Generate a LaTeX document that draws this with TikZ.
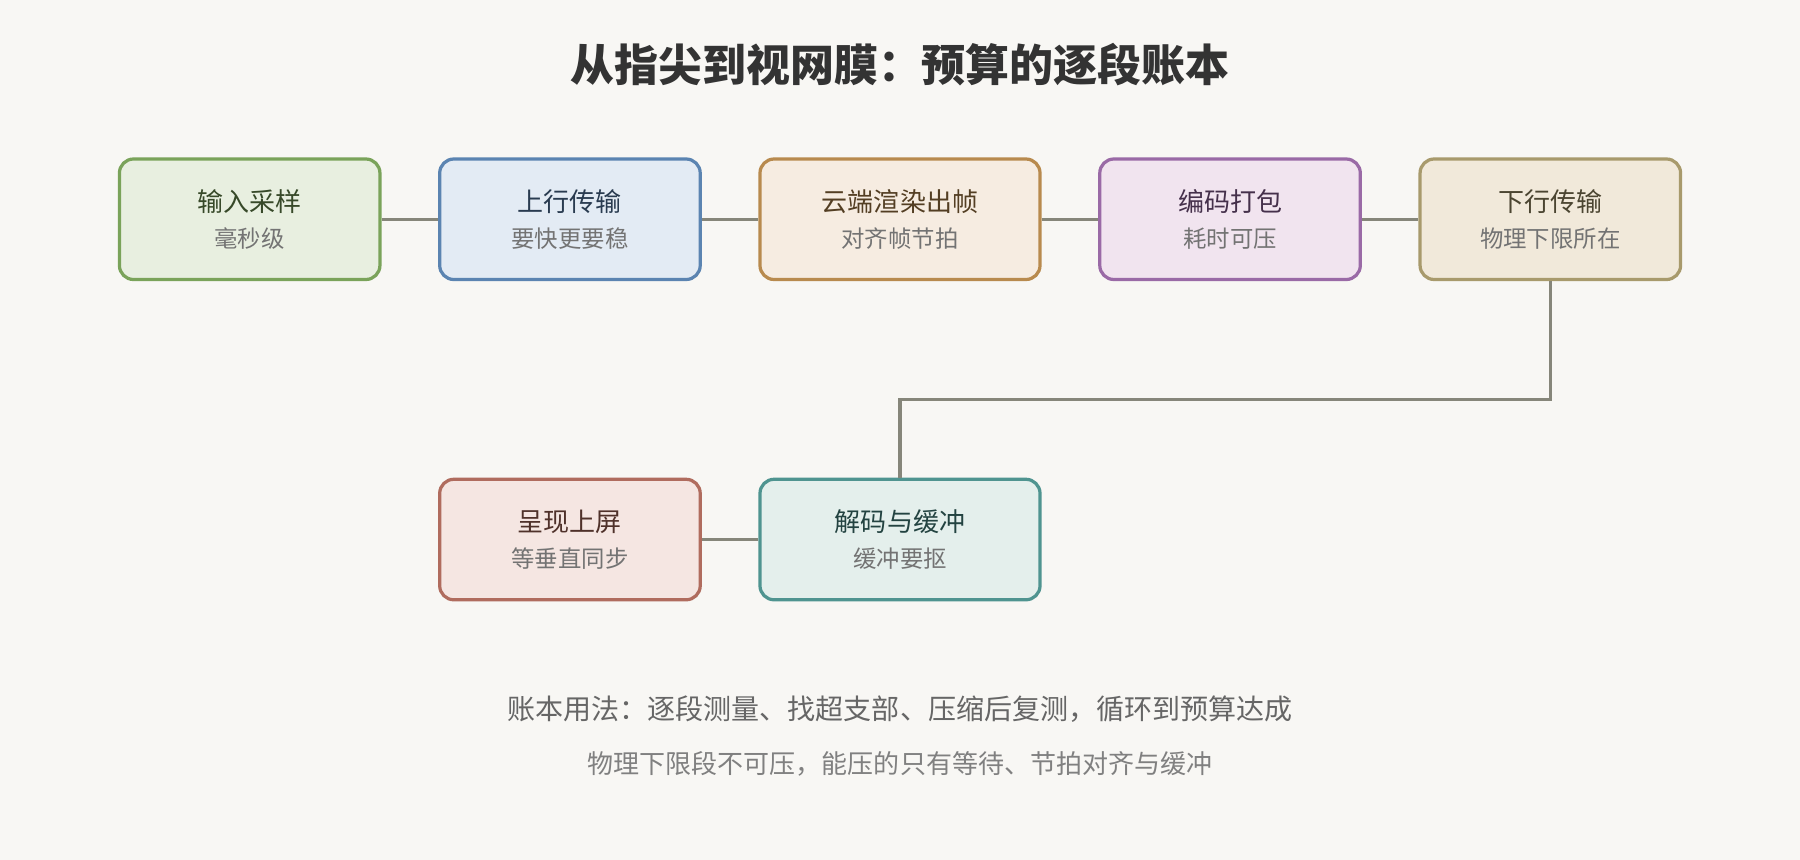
\documentclass[tikz,border=0pt]{standalone}
\usepackage{fontspec}
\setmainfont{Noto Sans CJK SC}
\definecolor{bg}{HTML}{F8F7F4}
\definecolor{wire}{HTML}{86867A}
\definecolor{gB}{HTML}{7AA35A}\definecolor{gF}{HTML}{E8EFE0}
\definecolor{bB}{HTML}{5B84B1}\definecolor{bF}{HTML}{E3EBF4}
\definecolor{oB}{HTML}{B88A4E}\definecolor{oF}{HTML}{F6ECE1}
\definecolor{pB}{HTML}{9A6AA6}\definecolor{pF}{HTML}{F1E4EF}
\definecolor{kB}{HTML}{A89A6C}\definecolor{kF}{HTML}{F1E9DA}
\definecolor{tB}{HTML}{4F9490}\definecolor{tF}{HTML}{E4EFEC}
\definecolor{rB}{HTML}{B06C5E}\definecolor{rF}{HTML}{F5E6E2}
\tikzset{
  stage/.style n args={2}{draw=#1, fill=#2, line width=1.6pt, rounded corners=7pt,
    minimum height=2.1cm, align=center, inner sep=0pt, text=#1!45!black},
  wire/.style={draw=wire, line width=1.6pt}
}
\newcommand{\stagetext}[2]{{\fontsize{12.9}{15}\selectfont #1}\\[6pt]{\fontsize{11.6}{13}\selectfont\color{black!55}#2}}
\begin{document}
\begin{tikzpicture}[x=0.02cm, y=-0.02cm]
    \fill[bg] (0,0) rectangle (1568,749);

    % Title
    \node (title) at (784,56) {\fontsize{21.8}{25}\selectfont\bfseries\color{black!80}从指尖到视网膜：预算的逐段账本};

    % Top row
    \node[stage={gB}{gF}, minimum width=4.54cm] (input) at (217.5,191) {\stagetext{输入采样}{毫秒级}};
    \node[stage={bB}{bF}, minimum width=4.54cm] (up) at (496.5,191) {\stagetext{上行传输}{要快更要稳}};
    \node[stage={oB}{oF}, minimum width=4.88cm] (render) at (784,191) {\stagetext{云端渲染出帧}{对齐帧节拍}};
    \node[stage={pB}{pF}, minimum width=4.54cm] (encode) at (1071.5,191) {\stagetext{编码打包}{耗时可压}};
    \node[stage={kB}{kF}, minimum width=4.54cm] (down) at (1350.5,191) {\stagetext{下行传输}{物理下限所在}};

    % Bottom row
    \node[stage={rB}{rF}, minimum width=4.54cm] (show) at (496.5,470) {\stagetext{呈现上屏}{等垂直同步}};
    \node[stage={tB}{tF}, minimum width=4.88cm] (decode) at (784,470) {\stagetext{解码与缓冲}{缓冲要抠}};

    \coordinate (bendR) at (1350.5,348);
    \coordinate (bendL) at (784,348);

    \draw[wire] (input) -- (up);
    \draw[wire] (up) -- (render);
    \draw[wire] (render) -- (encode);
    \draw[wire] (encode) -- (down);
    \draw[wire] (down.south) -- (bendR) -- (bendL) -- (decode.north);
    \draw[wire] (decode) -- (show);

    % Notes
    \node (note1) at (784,618) {\fontsize{13.9}{16}\selectfont\color{black!60}账本用法：逐段测量、找超支部、压缩后复测，循环到预算达成};
    \node (note2) at (784,665) {\fontsize{12.9}{15}\selectfont\color{black!50}物理下限段不可压，能压的只有等待、节拍对齐与缓冲};
\end{tikzpicture}
\end{document}
